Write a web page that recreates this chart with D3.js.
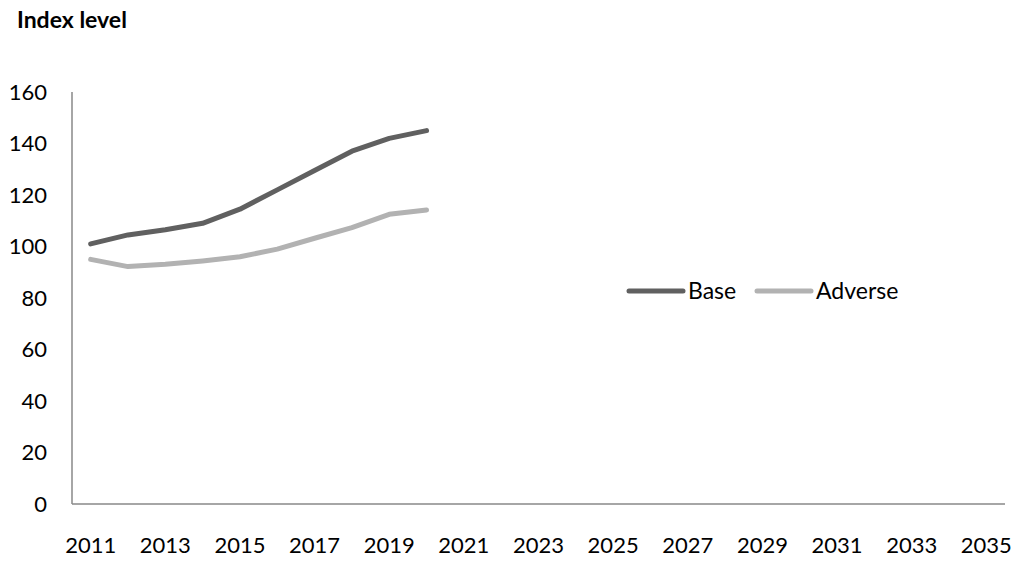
<!DOCTYPE html>
<html><head><meta charset="utf-8">
<script src="https://cdn.jsdelivr.net/npm/d3@7"></script>
<style>body{margin:0;background:#fff}svg{display:block}text{font-family:Lato,"Open Sans",sans-serif;fill:#000}</style>
</head><body><svg id="c" width="1018" height="565"></svg>
<script>
const years = d3.range(2011, 2036).map(String);
const baseYears = ["2011","2012","2013","2014","2015","2016","2017","2018","2019","2020"];
const baseValues = [101,104.5,106.5,109,114.5,122,129.5,137,142,145];
const adverseValues = [95,92.2,93.1,94.4,96,99,103.2,107.3,112.5,114.2];
const yTicks = [0,20,40,60,80,100,120,140,160];
const xTickLabels = years.filter((d,i)=>i%2===0);
const seriesNames = ["Base","Adverse"];
const colors = ["#606060","#b2b2b2"];

const svg = d3.select("#c");
const L=72, R=1005, T=92, B=504;
const x = d3.scaleBand().domain(years).range([L,R]);
const y = d3.scaleLinear().domain([0,160]).range([B,T]);

svg.append("text").attr("x",17).attr("y",28).attr("font-weight","bold").attr("font-size",23).text("Index level");

svg.append("g").selectAll("text").data(yTicks).join("text")
  .attr("x",47).attr("y",d=>y(d)).attr("dy","0.35em").attr("text-anchor","end").attr("font-size",22).text(d=>d);

svg.append("g").selectAll("text").data(xTickLabels).join("text")
  .attr("x",d=>x(d)+x.bandwidth()/2).attr("y",553).attr("text-anchor","middle").attr("font-size",22).text(d=>d);

svg.append("line").attr("x1",L).attr("x2",L).attr("y1",T).attr("y2",B).attr("stroke","#888").attr("stroke-width",1.5);
svg.append("line").attr("x1",L).attr("x2",R).attr("y1",B).attr("y2",B).attr("stroke","#888").attr("stroke-width",1.5);

const line = d3.line().x(d=>x(d[0])+x.bandwidth()/2).y(d=>y(d[1]));
[baseValues, adverseValues].forEach((vals,i)=>{
  svg.append("path").datum(baseYears.map((yr,j)=>[yr,vals[j]])).attr("d",line)
    .attr("fill","none").attr("stroke",colors[i]).attr("stroke-width",5).attr("stroke-linecap","round").attr("stroke-linejoin","round");
});

const leg = [[629,683,688],[757,811,816]];
seriesNames.forEach((n,i)=>{
  svg.append("line").attr("x1",leg[i][0]).attr("x2",leg[i][1]).attr("y1",291).attr("y2",291)
    .attr("stroke",colors[i]).attr("stroke-width",5).attr("stroke-linecap","round");
  svg.append("text").attr("x",leg[i][2]).attr("y",291).attr("dy","0.35em").attr("font-size",23).text(n);
});
</script></body></html>
